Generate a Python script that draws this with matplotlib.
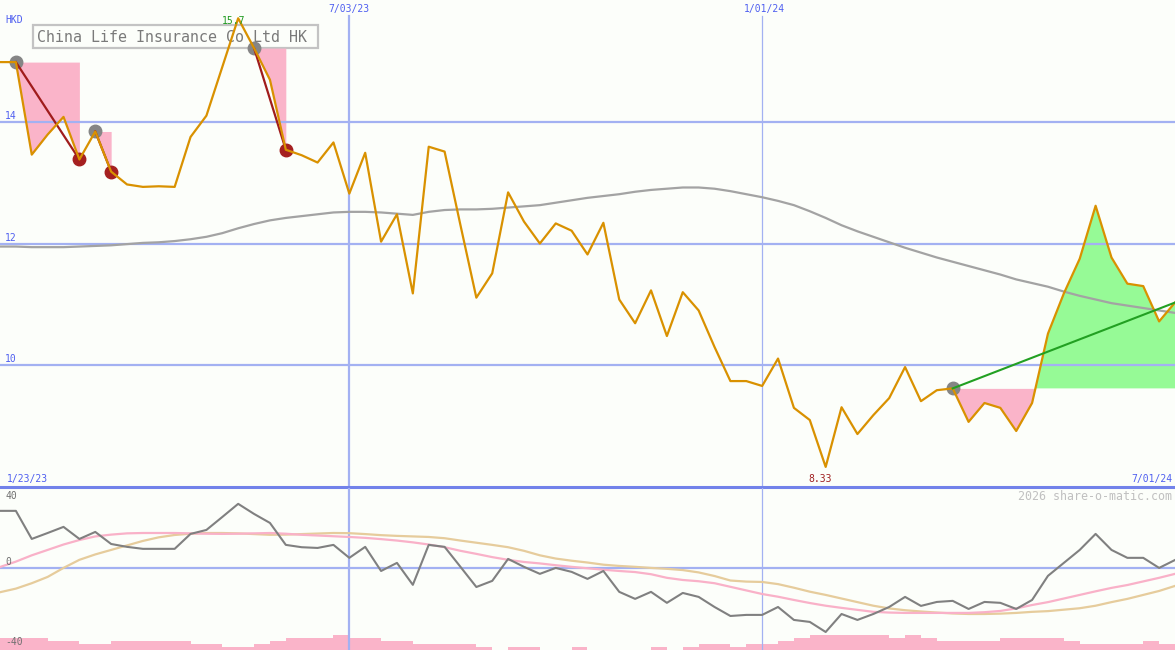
import numpy as np
import pandas as pd
import matplotlib
matplotlib.use("Agg")
import matplotlib.pyplot as plt
from matplotlib.patches import Rectangle

ANCHO, ALTO = 1175, 650
FONDO = "#fcfefa"
AZUL_REJILLA = "#a3b1f2"
AZUL_TEXTO = "#4f5ff0"
FUENTE = "DejaVu Sans Mono"

# semanas (lunes) desde 30/01/23 hasta 01/07/24
fechas = pd.date_range("2023-01-30", "2024-07-01", freq="7D")

precio = [14.98, 14.98, 13.46, 13.79, 14.08, 13.38, 13.84, 13.18, 12.97, 12.93, 12.94,
          12.93, 13.75, 14.10, 14.90, 15.70, 15.21, 14.69, 13.54, 13.45, 13.33,
          13.66, 12.82, 13.49, 12.03, 12.48, 11.18, 13.59, 13.51, 12.30, 11.11,
          11.51, 12.84, 12.36, 12.00, 12.33, 12.21, 11.82, 12.34, 11.08, 10.69,
          11.23, 10.48, 11.20, 10.90, 10.30, 9.74, 9.74, 9.66, 10.11, 9.30,
          9.10, 8.33, 9.31, 8.87, 9.18, 9.46, 9.97, 9.41, 9.59, 9.62,
          9.07, 9.38, 9.30, 8.92, 9.38, 10.52, 11.18, 11.75, 12.62, 11.77,
          11.34, 11.30, 10.72, 11.03]

media = [11.95, 11.95, 11.94, 11.94, 11.94, 11.95, 11.96, 11.97, 11.99, 12.01, 12.02,
         12.04, 12.07, 12.11, 12.17, 12.25, 12.32, 12.38, 12.42, 12.45, 12.48,
         12.51, 12.52, 12.52, 12.51, 12.49, 12.47, 12.52, 12.55, 12.56, 12.56,
         12.57, 12.59, 12.61, 12.63, 12.67, 12.71, 12.75, 12.78, 12.81, 12.85,
         12.88, 12.90, 12.92, 12.92, 12.90, 12.86, 12.81, 12.76, 12.70, 12.63,
         12.53, 12.42, 12.30, 12.20, 12.11, 12.02, 11.93, 11.85, 11.77, 11.70,
         11.63, 11.56, 11.49, 11.41, 11.35, 11.29, 11.21, 11.14, 11.08, 11.02,
         10.98, 10.94, 10.90, 10.86]

oscilador = [31.7, 31.7, 16.1, 19.4, 22.8, 16.1, 20.0, 13.3, 11.7, 10.6, 10.6,
             10.6, 18.9, 21.1, 28.3, 35.6, 30.0, 25.0, 12.8, 11.5, 11.1,
             12.8, 5.6, 11.7, -1.7, 2.8, -9.4, 12.8, 11.7, 0.6, -10.6,
             -7.2, 5.0, 0.6, -3.3, 0.0, -2.2, -6.1, -1.7, -13.3, -17.2,
             -13.3, -19.4, -13.9, -16.1, -21.7, -26.7, -26.1, -26.1, -21.7, -28.9,
             -30.0, -35.6, -25.6, -28.9, -25.6, -21.7, -16.1, -21.1, -18.9, -18.3,
             -22.8, -18.9, -19.4, -22.8, -17.8, -4.4, 2.8, 10.0, 18.9, 10.0,
             5.6, 5.6, 0.0, 4.4]

senal = [0.5, 3.5, 7.0, 10.0, 13.0, 15.5, 17.5, 18.5, 19.2, 19.4, 19.4,
         19.4, 19.2, 19.0, 18.9, 19.0, 19.2, 19.4, 19.0, 18.4, 18.0,
         17.6, 17.2, 16.7, 16.0, 15.2, 14.2, 13.0, 11.5, 9.5, 7.8,
         6.0, 4.5, 3.3, 2.5, 1.5, 0.6, -0.2, -1.0, -1.7, -2.3,
         -3.5, -5.5, -6.7, -7.4, -8.5, -10.5, -12.5, -14.5, -16.0, -17.8,
         -19.5, -21.0, -22.2, -23.3, -24.4, -24.8, -25.0, -25.0, -25.0, -25.0,
         -25.0, -24.6, -23.9, -22.5, -20.6, -19.0, -17.0, -15.0, -13.0, -11.1,
         -9.5, -7.5, -5.5, -3.3]

senal_lenta = [-13.5, -11.5, -8.5, -5.0, 0.0, 4.5, 7.5, 10.0, 12.5, 15.0, 17.0,
               18.3, 19.0, 19.4, 19.4, 19.2, 18.8, 18.4, 18.5, 18.8, 19.1,
               19.4, 19.3, 18.8, 18.2, 17.8, 17.5, 17.2, 16.5, 15.2, 14.0,
               12.8, 11.5, 9.5, 7.0, 5.2, 4.0, 3.0, 1.8, 1.1, 0.6,
               0.0, -0.5, -1.2, -2.5, -4.5, -7.0, -7.6, -7.8, -9.0, -11.0,
               -13.2, -15.0, -17.0, -19.0, -21.0, -22.5, -23.5, -24.2, -24.8, -25.3,
               -25.6, -25.6, -25.4, -25.0, -24.4, -24.0, -23.2, -22.4, -21.0, -19.0,
               -17.2, -15.0, -12.8, -10.0]

# volumen por semana (niveles relativos)
volumen = [4, 4, 4, 3, 3, 2, 2, 3, 3, 3, 3, 3, 2, 2, 1, 1, 2, 3, 4, 4, 4, 5,
           4, 4, 3, 3, 2, 2, 2, 2, 1, 0, 1, 1, 0, 0, 1, 0, 0, 0, 0, 1, 0, 1,
           2, 2, 1, 2, 2, 3, 4, 5, 5, 5, 5, 5, 4, 5, 4, 3, 3, 3, 3, 4, 4, 4,
           4, 3, 2, 2, 2, 2, 3, 2]

# caidas: (indice maximo, indice minimo)
caidas = [(1, 5), (6, 7), (16, 18)]
# subida desde este indice hasta el final
inicio_subida = 60

fecha_julio = pd.Timestamp("2023-07-03")
fecha_enero = pd.Timestamp("2024-01-01")


def texto(fig, x, y, s, **kw):
    kw.setdefault("family", FUENTE)
    kw.setdefault("va", "center")
    fig.text(x / ANCHO, 1 - y / ALTO, s, **kw)


fig = plt.figure(figsize=(ANCHO / 100, ALTO / 100), dpi=100, facecolor=FONDO)
ax1 = fig.add_axes([0, 163 / ALTO, 1, 487 / ALTO])
ax2 = fig.add_axes([0, 0, 1, 162 / ALTO])
for ax in (ax1, ax2):
    ax.set_facecolor(FONDO)
    ax.set_axis_off()
    ax.set_xlim(fechas[0], fechas[-1])

p = np.array(precio)
ax1.set_ylim(8, 16)

# recuadro del titulo, por debajo de las lineas
ax1.add_patch(Rectangle((33 / ANCHO, 1 - 48 / ALTO), 285 / ANCHO, 23 / ALTO,
                        transform=fig.transFigure, fc=FONDO, ec="#c3c3c3", lw=1.6, zorder=0.5))
ax1.text(37 / ANCHO, 1 - 37 / ALTO, "China Life Insurance Co Ltd HK", transform=fig.transFigure,
         family=FUENTE, va="center", color="#7a7a7a", fontsize=10.8, zorder=0.6)

# zonas de caida
for i0, i1 in caidas:
    nivel = p[i0]
    ax1.fill_between(fechas[i0:i1 + 1], nivel, p[i0:i1 + 1], color="#fab4c9", lw=0, zorder=1)
    ax1.plot([fechas[i0], fechas[i1]], [p[i0], p[i1]], color="#a01c1c", lw=1.6, zorder=4)
    ax1.plot(fechas[i0], p[i0], "o", ms=9, color="#858585", zorder=3)
    ax1.plot(fechas[i1], p[i1], "o", ms=9, color="#a52020", zorder=3)

# zona de subida
nivel = p[inicio_subida]
tramo = p[inicio_subida:]
ax1.fill_between(fechas[inicio_subida:], nivel, tramo, where=tramo <= nivel,
                 interpolate=True, color="#fab4c9", lw=0, zorder=1)
ax1.fill_between(fechas[inicio_subida:], nivel, tramo, where=tramo >= nivel,
                 interpolate=True, color="#96fa96", lw=0, zorder=1)
ax1.plot(fechas[inicio_subida], nivel, "o", ms=9, color="#858585", zorder=3)

# rejilla
for v in (14, 12, 10):
    ax1.axhline(v, color=AZUL_REJILLA, lw=1.6, zorder=2)
ax1.axvline(fecha_julio, ymax=1 - 16 / 487, color=AZUL_REJILLA, lw=1.6, zorder=2)
ax1.axvline(fecha_enero, ymax=1 - 16 / 487, color=AZUL_REJILLA, lw=0.9, zorder=2)
ax1.axhline(8, color="#7282ea", lw=2.2, zorder=6, clip_on=False)

ax1.plot(fechas, media, color="#a3a3a3", lw=1.6, zorder=4)
ax1.plot(fechas, precio, color="#d99100", lw=1.6, zorder=5)
ax1.plot([fechas[inicio_subida], fechas[-1]], [nivel, p[-1]], color="#22a022", lw=1.5, zorder=6)

# panel inferior
ax2.set_ylim(-45.6, 44.4)
ax2.bar(fechas[:-1], np.array(volumen) * 3 / 1.8, width=7, align="edge", bottom=-45.6,
        color="#fab4c9", lw=0, zorder=1)
ax2.axhline(0, color=AZUL_REJILLA, lw=1.6, zorder=2)
ax2.axvline(fecha_julio, color=AZUL_REJILLA, lw=1.6, zorder=2)
ax2.axvline(fecha_enero, color=AZUL_REJILLA, lw=0.9, zorder=2)
ax2.plot(fechas, senal_lenta, color="#e6cc9c", lw=1.6, zorder=3)
ax2.plot(fechas, senal, color="#f9b1c8", lw=1.6, zorder=3)
ax2.plot(fechas, oscilador, color="#808080", lw=1.5, zorder=4)

# textos
texto(fig, 5, 20, "HKD", color=AZUL_TEXTO, fontsize=7)
for v, y in ((14, 116), (12, 238), (10, 359)):
    texto(fig, 5, y, str(v), color=AZUL_TEXTO, fontsize=7)
texto(fig, 349, 9, "7/03/23", color=AZUL_TEXTO, fontsize=7, ha="center")
texto(fig, 764, 9, "1/01/24", color=AZUL_TEXTO, fontsize=7, ha="center")
texto(fig, 7, 479, "1/23/23", color=AZUL_TEXTO, fontsize=7)
texto(fig, 1172, 479, "7/01/24", color=AZUL_TEXTO, fontsize=7, ha="right")
texto(fig, 234, 21, f"{max(precio):.1f}", color="#1f9a1f", fontsize=7, ha="center")
texto(fig, 820, 479, f"{min(precio):.2f}", color="#a02020", fontsize=7, ha="center")
texto(fig, 1172, 496, "2026 share-o-matic.com", color="#c0c0c0", fontsize=8.4, ha="right")
texto(fig, 5, 496, "40", color="#707070", fontsize=7)
texto(fig, 5, 562, "0", color="#707070", fontsize=7)
texto(fig, 5, 642, "-40", color="#707070", fontsize=7)

fig.savefig("out.png", dpi=100, facecolor=FONDO)
